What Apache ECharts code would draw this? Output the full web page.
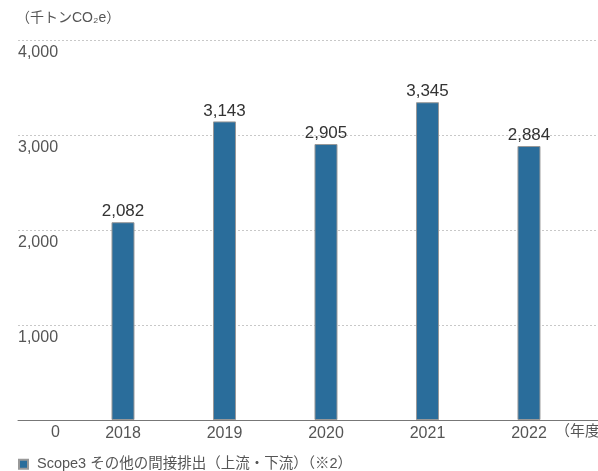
<!DOCTYPE html>
<html>
<head>
<meta charset="utf-8">
<script src="https://cdn.jsdelivr.net/npm/echarts@6/dist/echarts.min.js"></script>
<style>
  html, body { margin: 0; padding: 0; background: #fff; }
  #main { width: 598px; height: 471px; }
</style>
</head>
<body>
<div id="main"></div>
<script>
const years = [2018, 2019, 2020, 2021, 2022]
const emissions = [2082, 3143, 2905, 3345, 2884]
const seriesName = 'Scope3 その他の間接排出（上流・下流）（※2）'
const unitLabel = '（千トンCO₂e）'
const yearUnit = '（年度）'

const font = '"Liberation Sans", "Noto Sans CJK JP", sans-serif'

let myChart = echarts.init(document.getElementById('main'))
var option = {
    animation: false,
    textStyle: { fontFamily: font },
    grid: { left: 18, right: 0, top: 40, bottom: 51 },
    legend: {
        left: 13,
        top: 452,
        icon: 'rect',
        itemWidth: 9,
        itemHeight: 9,
        itemGap: 6,
        textStyle: { fontSize: 14.5, color: '#555', fontFamily: font, padding: [0, 0, 0, 4] },
        data: [seriesName]
    },
    graphic: [
        {
            type: 'text', left: 16, top: 11,
            style: { text: unitLabel, fontSize: 14, fill: '#555', fontFamily: font }
        },
        {
            type: 'text', left: 555, top: 424,
            style: { text: yearUnit, fontSize: 15, fill: '#555', fontFamily: font }
        }
    ],
    xAxis: {
        type: 'value',
        // 2018 の棒が x=123、2022 が x=529 になるように
        min: 2016.9655,
        max: 2022.68,
        splitLine: { show: false },
        axisTick: { show: false },
        axisLine: { lineStyle: { color: '#777', width: 1 } },
        axisLabel: {
            customValues: years,
            margin: 6,
            fontSize: 16,
            color: '#555',
            formatter: v => String(v)
        }
    },
    yAxis: {
        type: 'value',
        min: 0,
        max: 4000,
        interval: 1000,
        axisLine: { show: false },
        axisTick: { show: false },
        splitLine: { lineStyle: { type: [2, 2], color: '#c8c8c8' } },
        axisLabel: {
            inside: true,
            margin: 0,
            align: 'left',
            verticalAlign: 'top',
            padding: [5, 0, 0, 0],
            fontSize: 16,
            color: '#555',
            formatter: function (v) {
                if (v === 0) return '{z|0}'
                return v.toLocaleString('en-US')
            },
            rich: {
                z: { padding: [0, 0, 0, 33], fontSize: 16, color: '#555' }
            }
        }
    },
    series: [{
        name: seriesName,
        type: 'bar',
        barWidth: 23,
        itemStyle: { color: '#2a6d9b', borderColor: '#999', borderWidth: 1 },
        label: {
            show: true,
            position: 'top',
            distance: 2,
            fontSize: 17,
            color: '#333',
            formatter: p => p.value[1].toLocaleString('en-US')
        },
        data: years.map((y, i) => [y, emissions[i]])
    }]
};
myChart.setOption(option);
</script>
</body>
</html>
